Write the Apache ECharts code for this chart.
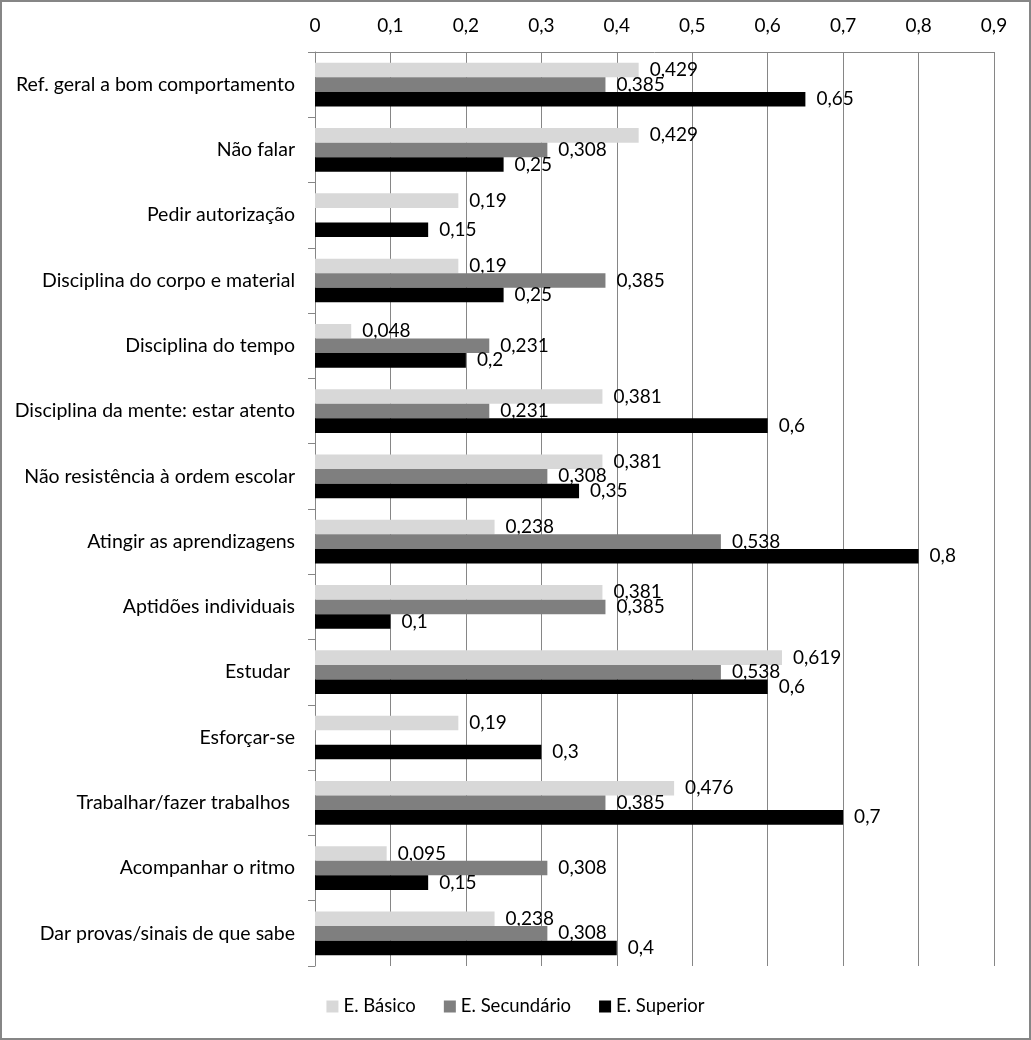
<!DOCTYPE html>
<html>
<head>
<meta charset="utf-8">
<script src="https://cdn.jsdelivr.net/npm/echarts@6/dist/echarts.min.js"></script>
<style>
  html, body { margin: 0; padding: 0; background: #fff; }
  #chart { width: 1031px; height: 1040px; }
</style>
</head>
<body>
<div id="chart"></div>
<script>
// categories top to bottom
const categories = [
  'Ref. geral a bom comportamento',
  'Não falar',
  'Pedir autorização',
  'Disciplina do corpo e material',
  'Disciplina do tempo',
  'Disciplina da mente: estar atento',
  'Não resistência à ordem escolar',
  'Atingir as aprendizagens',
  'Aptidões individuais',
  'Estudar ',
  'Esforçar-se',
  'Trabalhar/fazer trabalhos ',
  'Acompanhar o ritmo',
  'Dar provas/sinais de que sabe',
]

const basico = [0.429, 0.429, 0.19, 0.19, 0.048, 0.381, 0.381, 0.238, 0.381, 0.619, 0.19, 0.476, 0.095, 0.238]
const secundario = [0.385, 0.308, null, 0.385, 0.231, 0.231, 0.308, 0.538, 0.385, 0.538, null, 0.385, 0.308, 0.308]
const superior = [0.65, 0.25, 0.15, 0.25, 0.2, 0.6, 0.35, 0.8, 0.1, 0.6, 0.3, 0.7, 0.15, 0.4]

const seriesNames = ['E. Básico', 'E. Secundário', 'E. Superior']
const colors = ['#d8d8d8', '#7f7f7f', '#000000']

const font = 'Lato, "Open Sans", sans-serif'
const comma = (v) => String(v).replace('.', ',')

let myChart = echarts.init(document.getElementById('chart'))

function makeSeries(name, data, i) {
  return {
    name: name,
    type: 'bar',
    data: data,
    z: 2 + i,
    barGap: '0%',
    barCategoryGap: '33%',
    itemStyle: { color: colors[i] },
    label: {
      show: true,
      position: 'right',
      distance: 11,
      color: '#000',
      fontFamily: font,
      fontSize: 19,
      formatter: (p) => comma(p.value),
    },
  }
}

myChart.setOption({
  animation: false,
  textStyle: { fontFamily: font },
  graphic: [
    {
      type: 'rect',
      shape: { x: 1, y: 1, width: 1029, height: 1038 },
      style: { fill: 'none', stroke: '#868686', lineWidth: 2 },
      silent: true,
    },
  ],
  legend: {
    bottom: 19,
    left: 'center',
    itemWidth: 12,
    itemHeight: 12,
    itemGap: 28,
    icon: 'rect',
    textStyle: { fontFamily: font, fontSize: 18.5, color: '#000' },
    data: seriesNames,
  },
  grid: {
    left: 315,
    right: 37,
    top: 52,
    bottom: 74,
  },
  xAxis: {
    type: 'value',
    position: 'top',
    min: 0,
    max: 0.9,
    interval: 0.1,
    axisLine: { show: true, lineStyle: { color: '#868686' } },
    axisTick: { show: false },
    splitLine: { show: true, lineStyle: { color: '#868686', width: 1 } },
    axisLabel: {
      color: '#000',
      fontFamily: font,
      fontSize: 19,
      margin: 17,
      formatter: (v) => comma(+v.toFixed(1)),
    },
  },
  yAxis: {
    type: 'category',
    inverse: true,
    data: categories,
    axisLine: { show: true, lineStyle: { color: '#868686' } },
    axisTick: { show: true, length: 7, lineStyle: { color: '#868686' } },
    axisLabel: {
      color: '#000',
      fontFamily: font,
      fontSize: 19.5,
      margin: 20,
    },
  },
  series: [
    makeSeries(seriesNames[0], basico, 0),
    makeSeries(seriesNames[1], secundario, 1),
    makeSeries(seriesNames[2], superior, 2),
  ],
})
</script>
</body>
</html>
